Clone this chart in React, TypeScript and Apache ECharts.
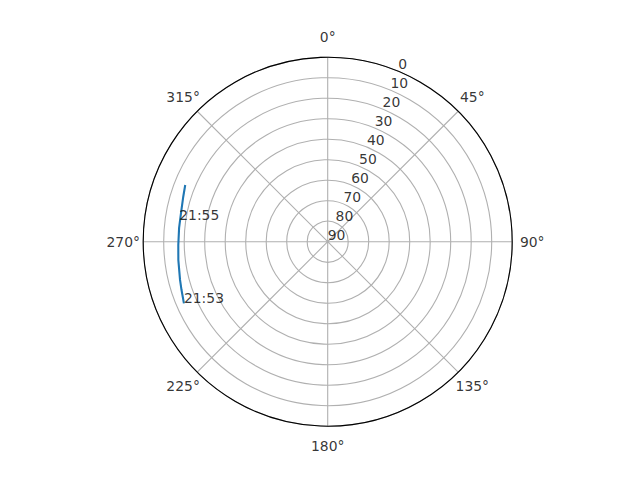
import React, { useEffect, useRef } from "react";
import * as echarts from "echarts";

// Track of the pass: azimuth (deg, clockwise from north) and elevation (deg)
const azimuth = [246.8, 251.7, 255.5, 263.0, 268.7, 275.3, 281.0, 287.3, 291.7];
const elevation = [13.7, 14.9, 15.6, 16.6, 17.1, 17.2, 17.1, 16.2, 15.2];

// Time annotations
const timeLabels = ["21:53", "21:55"];
const timeAzimuth = [246.8, 278.3];
const timeElevation = [13.7, 16.8];

// Tick labels
const angleTicks = [0, 45, 90, 135, 180, 225, 270, 315];
const radialTicks = [0, 10, 20, 30, 40, 50, 60, 70, 80, 90];
const radialLabelAngle = 22.5;
const angleLabelRadius = -9.75; // just outside the 0 ring (axis is inverted)

const FONT = "DejaVu Sans";
const FS = 13.9;

export default function App() {
  const ref = useRef<HTMLDivElement>(null);

  useEffect(() => {
    if (!ref.current) return;
    const chart = echarts.init(ref.current, undefined, { renderer: "svg" });
    const lineData = azimuth.map((a, i) => [elevation[i], a]);
    const timeData = timeLabels.map((t, i) => ({
      value: [timeElevation[i], timeAzimuth[i]],
      name: t,
    }));
    chart.setOption({
      animation: false,
      backgroundColor: "#ffffff",
      textStyle: { fontFamily: FONT },
      polar: { center: [327.7, 241.7], radius: 184.5 },
      angleAxis: {
        type: "value",
        min: 0,
        max: 360,
        interval: 45,
        startAngle: 90,
        clockwise: true,
        axisLine: { show: true, lineStyle: { color: "#000000", width: 1.1 } },
        axisTick: { show: false },
        axisLabel: { show: false },
        splitLine: { show: true, lineStyle: { color: "#b0b0b0", width: 1.1 } },
      },
      radiusAxis: {
        type: "value",
        min: 0,
        max: 90,
        interval: 10,
        inverse: true,
        axisLine: { show: false },
        axisTick: { show: false },
        axisLabel: { show: false },
        splitLine: { show: true, lineStyle: { color: "#b0b0b0", width: 1.1 } },
      },
      series: [
        {
          type: "line",
          coordinateSystem: "polar",
          data: lineData,
          showSymbol: false,
          smooth: false,
          lineStyle: { color: "#1f77b4", width: 2.1 },
          z: 5,
        },
        {
          type: "scatter",
          coordinateSystem: "polar",
          clip: false,
          symbolSize: 0,
          data: radialTicks.map((r) => [r, radialLabelAngle]),
          label: {
            show: true,
            position: "inside",
            align: "left",
            verticalAlign: "bottom",
            formatter: (p: any) => String(p.value[0]),
            color: "#000000",
            fontFamily: FONT,
            fontSize: FS,
          },
          z: 6,
        },
        {
          type: "scatter",
          coordinateSystem: "polar",
          clip: false,
          symbolSize: 0,
          data: angleTicks.map((a) => [angleLabelRadius, a]),
          label: {
            show: true,
            position: "inside",
            align: "center",
            verticalAlign: "middle",
            formatter: (p: any) => `${p.value[1]}°`,
            color: "#000000",
            fontFamily: FONT,
            fontSize: FS,
          },
          z: 6,
        },
        {
          type: "scatter",
          coordinateSystem: "polar",
          clip: false,
          symbolSize: 0,
          data: timeData,
          label: {
            show: true,
            position: "inside",
            align: "left",
            verticalAlign: "bottom",
            offset: [0, 2],
            formatter: (p: any) => p.name,
            color: "#000000",
            fontFamily: FONT,
            fontSize: FS,
          },
          z: 7,
        },
      ],
    });
    return () => chart.dispose();
  }, []);

  return (
    <div
      ref={ref}
      style={{ position: "fixed", left: 0, top: 0, width: 640, height: 480 }}
    />
  );
}
